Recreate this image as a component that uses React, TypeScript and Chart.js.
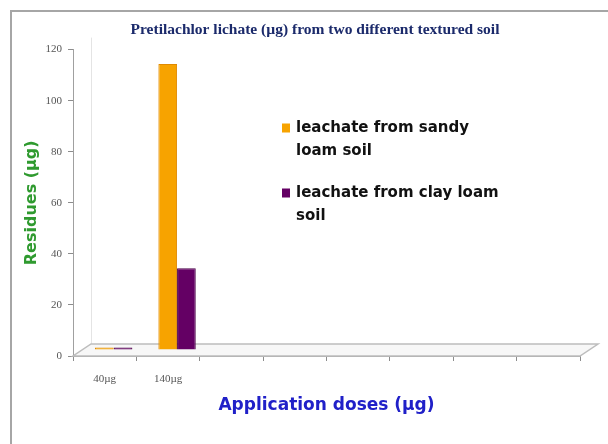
import React, { useEffect, useRef } from "react";
import { Chart, registerables } from "chart.js";

Chart.register(...registerables);

// ---- data ----
const categories = ["40µg", "140µg", "", "", "", "", "", ""];
const seriesNames = ["leachate from sandy loam soil", "leachate from clay loam soil"];
const sandyLoam = [1, 112, null, null, null, null, null, null];
const clayLoam = [1, 32, null, null, null, null, null, null];
const yMin = 0;
const yMax = 120;
const yStep = 20;
const chartTitle = "Pretilachlor lichate (µg) from two different textured soil";
const xTitle = "Application doses (µg)";
const yTitle = "Residues (µg)";

// ---- style ----
const ORANGE = "#F7A300";
const ORANGE_EDGE = "#E08A00";
const PURPLE = "#640064";
const PURPLE_EDGE = "#4A0048";
const DEPTH_X = 18;
const DEPTH_Y = -12;

const framePlugin = {
  id: "frame",
  beforeDraw(chart: any) {
    const ctx = chart.ctx;
    ctx.save();
    ctx.fillStyle = "#ffffff";
    ctx.fillRect(0, 0, chart.width, chart.height);
    ctx.strokeStyle = "#a6a6a6";
    ctx.lineWidth = 2;
    ctx.strokeRect(11, 11, chart.width + 40, chart.height + 40);
    ctx.restore();
  },
};

const floorPlugin = {
  id: "floor3d",
  beforeDatasetsDraw(chart: any) {
    const ctx = chart.ctx;
    const a = chart.chartArea;
    ctx.save();
    // back wall left edge
    ctx.strokeStyle = "#e4e4e4";
    ctx.lineWidth = 1;
    ctx.beginPath();
    ctx.moveTo(a.left + DEPTH_X + 0.5, a.bottom + DEPTH_Y);
    ctx.lineTo(a.left + DEPTH_X + 0.5, a.top + DEPTH_Y);
    ctx.stroke();
    // floor
    ctx.beginPath();
    ctx.moveTo(a.left, a.bottom);
    ctx.lineTo(a.right, a.bottom);
    ctx.lineTo(a.right + DEPTH_X, a.bottom + DEPTH_Y);
    ctx.lineTo(a.left + DEPTH_X, a.bottom + DEPTH_Y);
    ctx.closePath();
    ctx.fillStyle = "#f7f7f7";
    ctx.fill();
    ctx.strokeStyle = "#bdbdbd";
    ctx.lineWidth = 1.5;
    ctx.stroke();
    ctx.restore();
    // bars stand in the middle of the floor depth
    ctx.save();
    ctx.translate(DEPTH_X / 2, DEPTH_Y / 2);
  },
  afterDatasetsDraw(chart: any) {
    chart.ctx.restore();
  },
};

const legendPlugin = {
  id: "wrapLegend",
  afterDraw(chart: any) {
    const ctx = chart.ctx;
    const x0 = 282;
    let y = 128;
    const lineH = 23;
    const gap = 19;
    const maxW = 210;
    ctx.save();
    ctx.font = "bold 15px 'DejaVu Sans'";
    ctx.textBaseline = "middle";
    ctx.textAlign = "left";
    chart.data.datasets.forEach((ds: any) => {
      const words = String(ds.label).split(" ");
      const lines: string[] = [];
      let cur = "";
      words.forEach((w) => {
        const t = cur ? cur + " " + w : w;
        if (ctx.measureText(t).width > maxW && cur) {
          lines.push(cur);
          cur = w;
        } else cur = t;
      });
      if (cur) lines.push(cur);
      ctx.fillStyle = ds.backgroundColor;
      ctx.fillRect(x0, y - 4.5, 8, 9);
      ctx.fillStyle = "#111111";
      lines.forEach((ln, i) => ctx.fillText(ln, x0 + 14, y + i * lineH));
      y += lines.length * lineH + gap;
    });
    ctx.restore();
  },
};

export default function App() {
  const ref = useRef<HTMLCanvasElement | null>(null);
  useEffect(() => {
    if (!ref.current) return;
    const chart = new Chart(ref.current, {
      type: "bar",
      data: {
        labels: categories,
        datasets: [
          {
            label: seriesNames[0],
            data: sandyLoam,
            backgroundColor: ORANGE,
            borderColor: ORANGE_EDGE,
            borderWidth: 1,
          },
          {
            label: seriesNames[1],
            data: clayLoam,
            backgroundColor: PURPLE,
            borderColor: PURPLE_EDGE,
            borderWidth: 1,
          },
        ],
      },
      options: {
        responsive: false,
        animation: false,
        layout: { padding: { left: 22, right: 0, top: 0, bottom: 0 } },
        datasets: { bar: { categoryPercentage: 0.59, barPercentage: 1 } },
        plugins: {
          legend: { display: false },
          tooltip: { enabled: false },
          title: {
            display: true,
            text: chartTitle,
            color: "#1b2a6b",
            font: { family: "'Liberation Serif'", size: 15.5, weight: "bold" },
            padding: { top: 21, bottom: 10 },
          },
        },
        scales: {
          x: {
            grid: {
              display: true,
              drawOnChartArea: false,
              drawTicks: true,
              tickLength: 5,
              offset: true,
              color: "#8c8c8c",
            },
            border: { display: true, color: "#a0a0a0" },
            ticks: {
              color: "#555555",
              font: { family: "'Liberation Serif'", size: 11 },
              padding: 12,
              maxRotation: 0,
              autoSkip: false,
            },
            title: {
              display: true,
              text: xTitle,
              color: "#2020c8",
              font: { family: "'DejaVu Sans'", size: 17, weight: "bold" },
              padding: { top: 0, bottom: 28 },
            },
            afterFit: (s: any) => {
              s.height = 88;
            },
          },
          y: {
            min: yMin,
            max: yMax,
            grid: {
              display: true,
              drawOnChartArea: false,
              drawTicks: true,
              tickLength: 5,
              color: "#8c8c8c",
            },
            border: { display: true, color: "#a0a0a0" },
            ticks: {
              stepSize: yStep,
              color: "#555555",
              font: { family: "'Liberation Serif'", size: 11 },
              padding: 6,
            },
            title: {
              display: true,
              text: yTitle,
              color: "#2f9a2f",
              font: { family: "'DejaVu Sans'", size: 16, weight: "bold" },
              padding: { top: 0, bottom: 0 },
            },
            afterFit: (s: any) => {
              s.width = 51;
            },
          },
          yRight: {
            position: "right",
            display: true,
            grid: { display: false },
            border: { display: false },
            ticks: { display: false },
            afterFit: (s: any) => {
              s.width = 28;
            },
          },
        },
      },
      plugins: [framePlugin, floorPlugin, legendPlugin],
    } as any);
    return () => chart.destroy();
  }, []);
  return (
    <div style={{ position: "absolute", left: 0, top: 0, width: 608, height: 444 }}>
      <canvas ref={ref} width={608} height={444} style={{ display: "block" }} />
    </div>
  );
}
